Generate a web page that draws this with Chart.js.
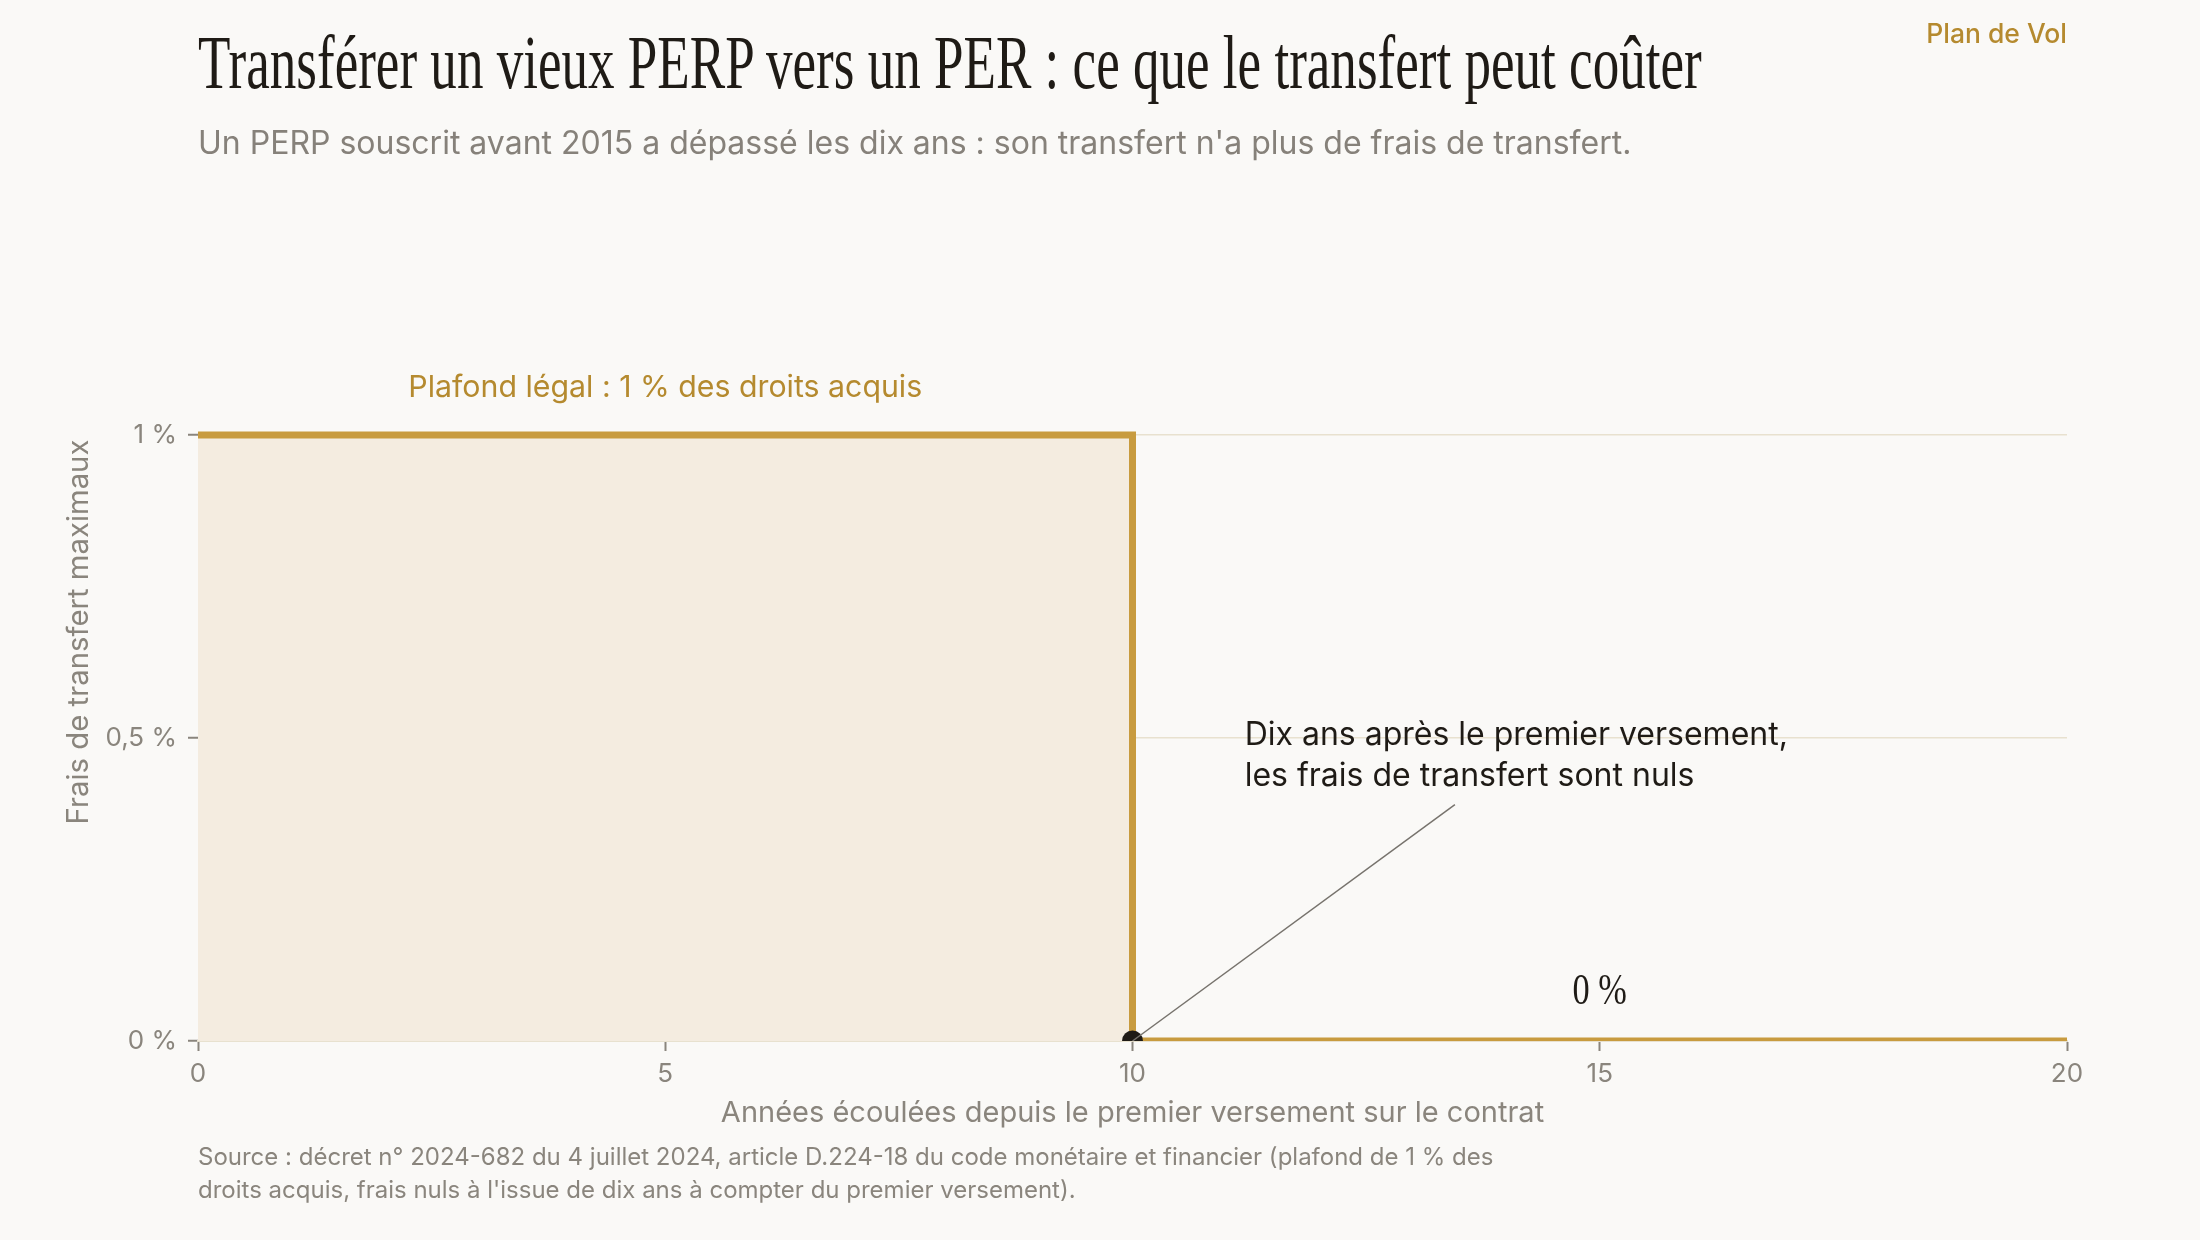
<!DOCTYPE html>
<html lang="fr">
<head>
<meta charset="utf-8">
<script src="https://cdn.jsdelivr.net/npm/chart.js@4.4.1/dist/chart.umd.min.js"></script>
<style>
    html, body { margin: 0; padding: 0; background: #faf9f7; }
    #wrap { position: relative; width: 2200px; height: 1240px; overflow: hidden; }
    #chart { position: absolute; left: 0; top: 0; }
    .txt { position: absolute; margin: 0; white-space: nowrap; }
    #title { left: 198px; top: 19px; font-family: "Liberation Serif", serif; font-size: 76px; color: #1f1b16; transform-origin: 0 0; font-weight: 400; }
    #subtitle { left: 198px; top: 123px; font-family: Inter, sans-serif; font-size: 32px; color: #86817a; }
    #brand { right: 133px; top: 17px; font-family: Inter, sans-serif; font-size: 26.5px; color: #b58a2f; font-weight: 500; }
    #source { left: 198px; top: 1140px; font-family: Inter, sans-serif; font-size: 24px; line-height: 33px; color: #8a857d; }
</style>
</head>
<body>
<div id="wrap">
    <canvas id="chart" width="2200" height="1240"></canvas>
    <h1 class="txt" id="title">Transférer un vieux PERP vers un PER : ce que le transfert peut coûter</h1>
    <p class="txt" id="subtitle">Un PERP souscrit avant 2015 a dépassé les dix ans : son transfert n'a plus de frais de transfert.</p>
    <p class="txt" id="brand">Plan de Vol</p>
    <p class="txt" id="source">Source : décret n° 2024-682 du 4 juillet 2024, article D.224-18 du code monétaire et financier (plafond de 1 % des<br>droits acquis, frais nuls à l'issue de dix ans à compter du premier versement).</p>
</div>
<script>
// Data: maximum transfer fee (%) by years since first payment
const years = [0, 10, 10, 20];
const fees = [1, 1, 0, 0];
const markerYears = [10];
const markerFees = [0];
const xTickValues = [0, 5, 10, 15, 20];
const yTickValues = [0, 0.5, 1];

const capLabel = 'Plafond légal : 1 % des droits acquis';
const noteLines = ['Dix ans après le premier versement,', 'les frais de transfert sont nuls'];
const zeroLabel = '0 %';

// Colours
const gold = '#c89b3f';
const goldText = '#b58a2f';
const fillBeige = '#f4ece0';
const gridBeige = '#e8e1cf';
const grey = '#8a857d';
const ink = '#1f1b16';

// squeeze the title to the condensed width of the original
const titleEl = document.getElementById('title');
titleEl.style.transform = 'scaleX(' + (1504 / titleEl.offsetWidth) + ')';

function formatPct(v) {
    return String(v).replace('.', ',') + ' %';
}

// Annotations drawn through the scales
const annotations = {
    id: 'annotations',
    afterDatasetsDraw(chart) {
        const ctx = chart.ctx;
        const xs = chart.scales.x;
        const ys = chart.scales.y;
        ctx.save();

        // cap label above the 1 % line
        ctx.font = '30.3px Inter';
        ctx.fillStyle = goldText;
        ctx.textAlign = 'center';
        ctx.textBaseline = 'middle';
        ctx.fillText(capLabel, xs.getPixelForValue(5), ys.getPixelForValue(1) - 47);

        // connector from the marker to the note
        ctx.strokeStyle = '#77736d';
        ctx.lineWidth = 1.5;
        ctx.beginPath();
        ctx.moveTo(xs.getPixelForValue(markerYears[0]), ys.getPixelForValue(markerFees[0]));
        ctx.lineTo(xs.getPixelForValue(13.45), ys.getPixelForValue(0.39));
        ctx.stroke();

        // note text
        ctx.font = '32px Inter';
        ctx.fillStyle = ink;
        ctx.textAlign = 'left';
        ctx.fillText(noteLines[0], xs.getPixelForValue(11.2), ys.getPixelForValue(0.505));
        ctx.fillText(noteLines[1], xs.getPixelForValue(11.2), ys.getPixelForValue(0.437));

        // 0 % label, condensed serif
        const zx = xs.getPixelForValue(15);
        const zy = ys.getPixelForValue(0.08);
        ctx.translate(zx, zy);
        ctx.scale(0.78, 1);
        ctx.font = '44px "Liberation Serif"';
        ctx.textAlign = 'center';
        ctx.fillText(zeroLabel, 0, 0);
        ctx.restore();
    }
};

const ctx = document.getElementById('chart').getContext('2d');
new Chart(ctx, {
    type: 'line',
    data: {
        datasets: [{
            type: 'scatter',
            data: markerYears.map((x, i) => ({ x: x, y: markerFees[i] })),
            pointRadius: 10.5,
            pointBackgroundColor: ink,
            pointBorderWidth: 0,
            clip: { left: false, top: false, right: false, bottom: 0 }
        }, {
            data: years.map((x, i) => ({ x: x, y: fees[i] })),
            borderColor: gold,
            borderWidth: 7,
            borderJoinStyle: 'miter',
            backgroundColor: fillBeige,
            fill: 'origin',
            pointRadius: 0,
            tension: 0,
            clip: { left: 0, top: false, right: 0, bottom: 0 }
        }]
    },
    options: {
        responsive: false,
        animation: false,
        devicePixelRatio: 1,
        layout: { padding: { left: 0, right: 133, top: 223, bottom: 99 } },
        plugins: {
            legend: { display: false },
            tooltip: { enabled: false }
        },
        scales: {
            x: {
                type: 'linear',
                min: 0,
                max: 20,
                afterBuildTicks: s => { s.ticks = xTickValues.map(v => ({ value: v })); },
                afterFit: s => { s.height = 100; },
                ticks: { color: grey, font: { family: 'Inter', size: 26 }, padding: 8, maxRotation: 0 },
                grid: { drawOnChartArea: false, drawTicks: true, tickLength: 10, tickColor: grey, tickWidth: 2 },
                border: { color: gridBeige, width: 2 },
                title: {
                    display: true,
                    text: 'Années écoulées depuis le premier versement sur le contrat',
                    color: grey,
                    font: { family: 'Inter', size: 29 },
                    padding: { top: 0, bottom: 10 }
                }
            },
            y: {
                min: 0,
                max: 1.35,
                afterBuildTicks: s => { s.ticks = yTickValues.map(v => ({ value: v })); },
                afterFit: s => { s.width = 198; },
                ticks: { color: grey, font: { family: 'Inter', size: 26 }, padding: 11, callback: v => formatPct(v) },
                grid: {
                    color: ctx => ctx.tick && ctx.tick.value === 0 ? 'rgba(0,0,0,0)' : gridBeige,
                    lineWidth: 1.5,
                    tickLength: 10,
                    tickColor: grey,
                    tickWidth: 2
                },
                border: { display: false },
                title: {
                    display: true,
                    text: 'Frais de transfert maximaux',
                    color: grey,
                    font: { family: 'Inter', size: 29.3 },
                    padding: { top: 62, bottom: 0 }
                }
            }
        }
    },
    plugins: [annotations]
});
</script>
</body>
</html>
